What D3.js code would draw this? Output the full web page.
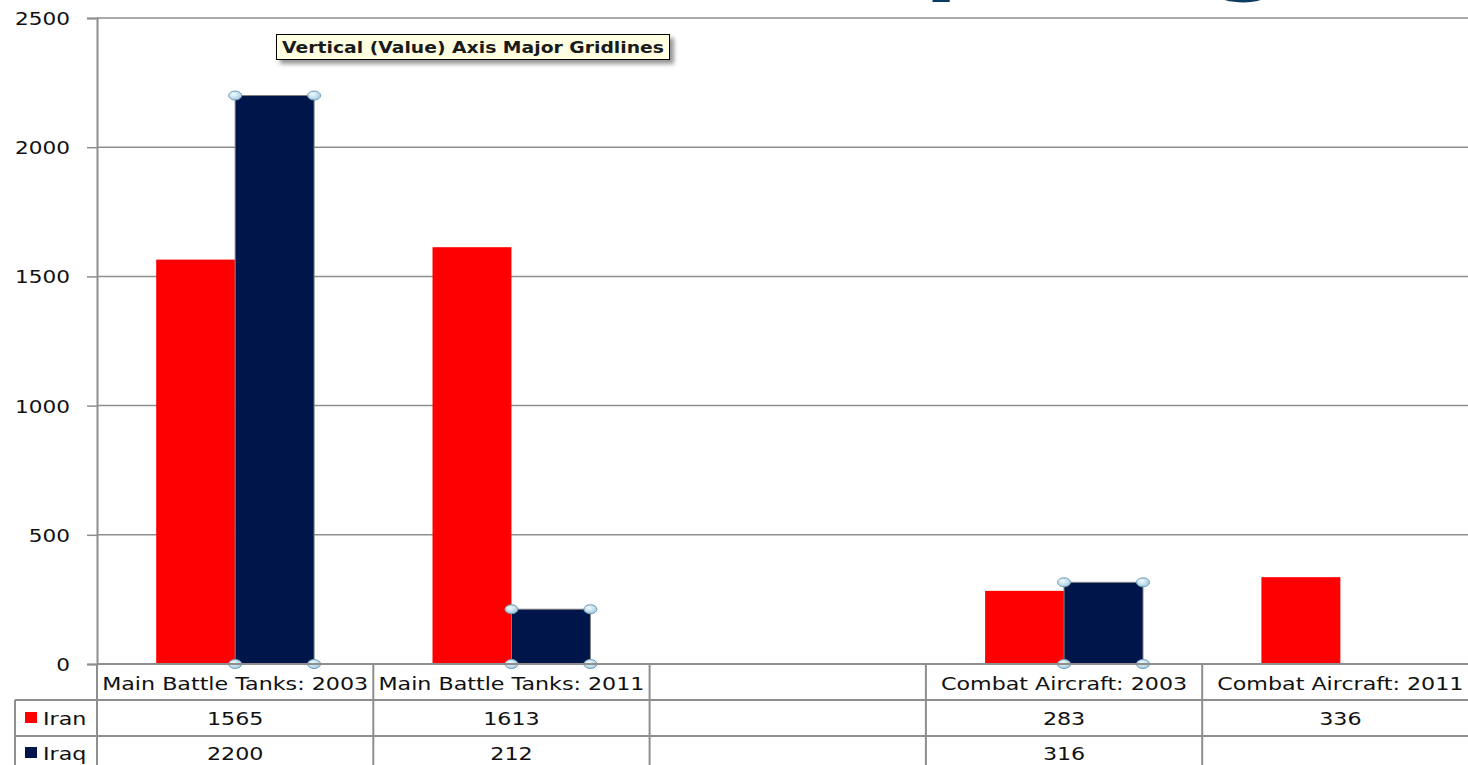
<!DOCTYPE html>
<html>
<head>
<meta charset="utf-8">
<script src="https://cdn.jsdelivr.net/npm/d3@7/dist/d3.min.js"></script>
<style>
  html, body { margin: 0; padding: 0; background: #fff; }
  svg { display: block; }
  text { font-family: "DejaVu Sans", Verdana, sans-serif; }
</style>
</head>
<body>
<svg id="chart" width="1468" height="765"></svg>
<script>
// Chart data
const categories = ["Main Battle Tanks: 2003", "Main Battle Tanks: 2011", "", "Combat Aircraft: 2003", "Combat Aircraft: 2011"];
const seriesNames = ["Iran", "Iraq"];
const iranValues = [1565, 1613, null, 283, 336];
const iraqValues = [2200, 212, null, 316, null];
const yTicks = [0, 500, 1000, 1500, 2000, 2500];

const seriesColors = { Iran: "#fe0000", Iraq: "#00154a" };
const seriesValues = { Iran: iranValues, Iraq: iraqValues };

const svg = d3.select("#chart");
const W = 1468, H = 765;
const plot = { left: 97, top: 18, bottom: 664, catWidth: 276.3 };
const rowTop = [664, 700, 736];
const tableLeft = 15;
const lineColor = "#8e8e8e";
const hs = 1.2; // horizontal stretch applied to all text

const x = d3.scaleBand()
  .domain(categories.map((d, i) => i))
  .range([plot.left, plot.left + plot.catWidth * categories.length])
  .paddingInner(0).paddingOuter(0);

// Excel-style gap width of 150%: two bars share 2/3.5 of each category
const bw = x.bandwidth();
const x1 = d3.scaleBand()
  .domain(seriesNames)
  .range([bw * 0.75 / 3.5, bw * 2.75 / 3.5])
  .padding(0);

const y = d3.scaleLinear().domain([0, 2500]).range([plot.bottom, plot.top]);

// helper for horizontally stretched text
function stretchedText(parent, tx, ty, str, opts = {}) {
  return parent.append("text")
    .attr("transform", `translate(${tx},${ty}) scale(${opts.sx || hs},1)`)
    .attr("text-anchor", opts.anchor || "middle")
    .attr("font-size", opts.size || 18)
    .attr("font-weight", opts.weight || "normal")
    .attr("fill", opts.fill || "#111")
    .text(str);
}

// Slide title running off the top edge (only its descenders show)
stretchedText(svg, 682, -15, "Comparing", { anchor: "start", size: 82, weight: "bold", fill: "#0b3b5e" });

// Horizontal gridlines
svg.append("g")
  .selectAll("line")
  .data(yTicks.filter(d => d > 0))
  .join("line")
  .attr("x1", plot.left).attr("x2", W)
  .attr("y1", d => y(d)).attr("y2", d => y(d))
  .attr("stroke", lineColor).attr("stroke-width", 1.5);

// Y axis
const yAxis = svg.append("g")
  .attr("transform", `translate(${plot.left},0)`)
  .call(d3.axisLeft(y).tickValues(yTicks).tickFormat(d3.format("d")).tickSize(10).tickPadding(0));
yAxis.select(".domain").attr("stroke", lineColor).attr("stroke-width", 2);
yAxis.selectAll(".tick line").attr("stroke", lineColor).attr("stroke-width", 1.5);
yAxis.selectAll(".tick text")
  .attr("x", null).attr("dy", "0.36em")
  .attr("transform", `translate(-27,0) scale(${hs},1)`)
  .attr("font-size", 18)
  .attr("font-family", "DejaVu Sans, Verdana, sans-serif")
  .attr("fill", "#111")
  .attr("text-anchor", "end");

// Bars
const groups = svg.append("g")
  .selectAll("g")
  .data(categories.map((c, i) => i))
  .join("g")
  .attr("transform", i => `translate(${x(i)},0)`);

groups.selectAll("rect")
  .data(i => seriesNames.map(s => ({ s, v: seriesValues[s][i] })).filter(d => d.v != null))
  .join("rect")
  .attr("x", d => x1(d.s))
  .attr("width", x1.bandwidth())
  .attr("y", d => y(d.v))
  .attr("height", d => y(0) - y(d.v))
  .attr("fill", d => seriesColors[d.s])
  .attr("stroke", d => d.s === "Iraq" ? "#7f7f7f" : "none")
  .attr("stroke-width", 1);

// Selection handles on the selected (Iraq) series
const defs = svg.append("defs");
const grad = defs.append("radialGradient").attr("id", "handleGrad")
  .attr("cx", "40%").attr("cy", "35%").attr("r", "70%");
grad.append("stop").attr("offset", "0%").attr("stop-color", "#f2fbff");
grad.append("stop").attr("offset", "100%").attr("stop-color", "#9fc8dc");

const handles = [];
categories.forEach((c, i) => {
  const v = iraqValues[i];
  if (v == null) return;
  const xa = x(i) + x1("Iraq"), xb = xa + x1.bandwidth();
  [[xa, y(v)], [xb, y(v)], [xa, y(0)], [xb, y(0)]].forEach(p => handles.push(p));
});
svg.append("g").selectAll("ellipse")
  .data(handles)
  .join("ellipse")
  .attr("cx", d => d[0]).attr("cy", d => d[1])
  .attr("rx", 6.5).attr("ry", 4.5)
  .attr("fill", "url(#handleGrad)")
  .attr("stroke", "#6d9bb6").attr("stroke-width", 1);

// Data table
const table = svg.append("g");
table.append("line").attr("x1", plot.left).attr("x2", W)
  .attr("y1", rowTop[0]).attr("y2", rowTop[0])
  .attr("stroke", lineColor).attr("stroke-width", 2);
[rowTop[1], rowTop[2]].forEach(yy => {
  table.append("line").attr("x1", tableLeft).attr("x2", W)
    .attr("y1", yy).attr("y2", yy)
    .attr("stroke", lineColor).attr("stroke-width", 2);
});
table.append("line").attr("x1", tableLeft).attr("x2", tableLeft)
  .attr("y1", rowTop[1]).attr("y2", H)
  .attr("stroke", lineColor).attr("stroke-width", 2);
table.append("line").attr("x1", plot.left).attr("x2", plot.left)
  .attr("y1", rowTop[0]).attr("y2", H)
  .attr("stroke", lineColor).attr("stroke-width", 2);
categories.forEach((c, i) => {
  if (i === 0) return;
  table.append("line").attr("x1", x(i)).attr("x2", x(i))
    .attr("y1", rowTop[0]).attr("y2", H)
    .attr("stroke", lineColor).attr("stroke-width", 2);
});

// Category headers
categories.forEach((c, i) => {
  stretchedText(table, x(i) + bw / 2, 690, c, { size: 18.5 });
});

// Legend keys and values
const rowBase = { Iran: 725, Iraq: 760 };
const rowKeyTop = { Iran: 712, Iraq: 747 };
seriesNames.forEach(s => {
  table.append("rect")
    .attr("x", 25).attr("y", rowKeyTop[s])
    .attr("width", 12).attr("height", 11)
    .attr("fill", seriesColors[s]);
  stretchedText(table, 43, rowBase[s], s, { anchor: "start", size: 18.5 });
  categories.forEach((c, i) => {
    const v = seriesValues[s][i];
    if (v == null) return;
    stretchedText(table, x(i) + bw / 2, rowBase[s], String(v), { size: 18.5 });
  });
});

// Hover tooltip for the gridlines
const tip = svg.append("g");
const tipFilter = defs.append("filter").attr("id", "tipShadow")
  .attr("x", "-10%").attr("y", "-30%").attr("width", "130%").attr("height", "190%");
tipFilter.append("feGaussianBlur").attr("stdDeviation", 2);
tip.append("rect")
  .attr("x", 280).attr("y", 38).attr("width", 394).attr("height", 26)
  .attr("fill", "#6a6a6a").attr("opacity", 0.7).attr("filter", "url(#tipShadow)");
tip.append("rect")
  .attr("x", 276.5).attr("y", 34.5).attr("width", 393).attr("height", 25)
  .attr("fill", "#ffffe1").attr("stroke", "#000").attr("stroke-width", 1);
tip.append("text")
  .attr("x", 282).attr("y", 53)
  .attr("font-size", 16).attr("font-weight", "bold").attr("fill", "#1a1a1a")
  .attr("textLength", 382).attr("lengthAdjust", "spacingAndGlyphs")
  .text("Vertical (Value) Axis Major Gridlines");
</script>
</body>
</html>
